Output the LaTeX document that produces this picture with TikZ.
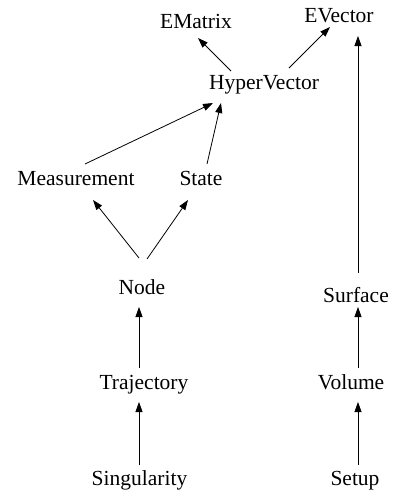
\documentclass[tikz,border=0pt]{standalone}
\usepackage{fontspec}
\setmainfont{Liberation Serif}
\usetikzlibrary{arrows.meta}
\begin{document}
\begin{tikzpicture}[x=1pt,y=-1pt,
  lbl/.style={inner sep=0pt,anchor=base,font=\fontsize{21.5}{24}\selectfont},
  arr/.style={-{Triangle[length=10pt,width=7pt]},line width=0.8pt}]
\useasboundingbox (0,0) rectangle (392,491);
\node[lbl] (em) at (196,28) {EMatrix};
\node[lbl] (ev) at (339,22) {EVector};
\node[lbl] (hv) at (264,89) {HyperVector};
\node[lbl] (ms) at (76,185) {Measurement};
\node[lbl] (st) at (201,185) {State};
\node[lbl] (nd) at (142,294) {Node};
\node[lbl] (sf) at (356,302) {Surface};
\node[lbl] (tr) at (144,389) {Trajectory};
\node[lbl] (vo) at (351,389) {Volume};
\node[lbl] (sg) at (139.5,485) {Singularity};
\node[lbl] (su) at (355,485) {Setup};
\draw[arr] ([xshift=-33pt,yshift=18pt]hv.base) -- ([xshift=2pt,yshift=-10pt]em.base);
\draw[arr] ([xshift=25pt,yshift=21pt]hv.base) -- ([xshift=-9pt,yshift=-5pt]ev.base);
\draw[arr] ([xshift=2pt,yshift=29pt]sf.base) -- ([xshift=19pt,yshift=-14pt]ev.base);
\draw[arr] ([xshift=9pt,yshift=21pt]ms.base) -- ([xshift=-51pt,yshift=-14pt]hv.base);
\draw[arr] ([xshift=6pt,yshift=21pt]st.base) -- ([xshift=-43pt,yshift=-14pt]hv.base);
\draw[arr] ([xshift=-3pt,yshift=36pt]nd.base) -- ([xshift=17pt,yshift=-15pt]ms.base);
\draw[arr] ([xshift=5pt,yshift=35pt]nd.base) -- ([xshift=-13pt,yshift=-15pt]st.base);
\draw[arr] ([xshift=-5pt,yshift=21pt]tr.base) -- ([xshift=-3pt,yshift=-13pt]nd.base);
\draw[arr] ([xshift=7pt,yshift=21pt]vo.base) -- ([xshift=2pt,yshift=-5pt]sf.base);
\draw[arr] ([xshift=-0.5pt,yshift=20pt]sg.base) -- ([xshift=-5pt,yshift=-13pt]tr.base);
\draw[arr] ([xshift=3pt,yshift=20pt]su.base) -- ([xshift=7pt,yshift=-13pt]vo.base);
\end{tikzpicture}
\end{document}
